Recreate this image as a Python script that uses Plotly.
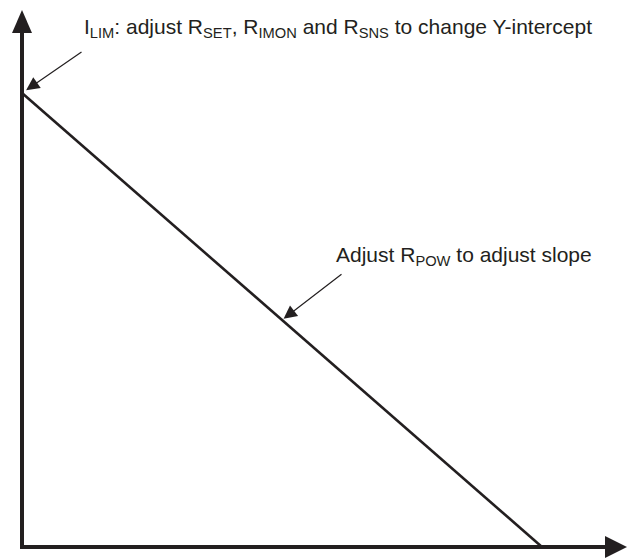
import plotly.graph_objects as go

# Data: a straight current-limit vs power line (normalised)
line_x = [0.0, 1.0]          # X-intercept at 1
line_y = [1.0, 0.0]          # Y-intercept (I_LIM) at 1
ilim_point = (0.0, 1.0)      # where the I_LIM callout points
slope_point = (0.5, 0.5)     # where the slope callout points
label_ilim = "I<sub>LIM</sub>: adjust R<sub>SET</sub>, R<sub>IMON</sub> and R<sub>SNS</sub> to change Y-intercept"
label_slope = "Adjust R<sub>POW</sub> to adjust slope"

W, H = 627, 558
ML, MR, MT, MB = 22, 0, 0, 11
PW, PH = W - ML - MR, H - MT - MB
PX_PER_X = 520.0
PX_PER_Y = 454.0

INK = "#231f20"
FONT = "Liberation Sans, Arial, sans-serif"

fig = go.Figure()
fig.add_trace(go.Scatter(x=line_x, y=line_y, mode="lines",
                         line=dict(color=INK, width=2.6), hoverinfo="skip",
                         showlegend=False))

def px2paper_x(px):
    return (px - ML) / PW

def px2paper_y(py):
    return (H - MB - py) / PH

shapes = [
    # x axis line
    dict(type="line", xref="paper", yref="paper", x0=-2 / PW, x1=px2paper_x(606),
         y0=0, y1=0, line=dict(color=INK, width=4)),
    # y axis line
    dict(type="line", xref="paper", yref="paper", x0=0, x1=0,
         y0=-2 / PH, y1=px2paper_y(33), line=dict(color=INK, width=4)),
    # y arrowhead
    dict(type="path", xref="paper", yref="paper", xsizemode="pixel", ysizemode="pixel",
         xanchor=0, yanchor=px2paper_y(33), path="M -10,0 L 10,0 L 0,23 Z",
         fillcolor=INK, line=dict(width=0)),
    # x arrowhead
    dict(type="path", xref="paper", yref="paper", xsizemode="pixel", ysizemode="pixel",
         xanchor=px2paper_x(605), yanchor=0, path="M 0,-11 L 0,11 L 22,0 Z",
         fillcolor=INK, line=dict(width=0)),
]

annotations = [
    dict(x=ilim_point[0], y=ilim_point[1], xref="x", yref="y", text="",
         showarrow=True, ax=61, ay=-42, arrowhead=2, arrowsize=2.2, arrowwidth=1.2,
         arrowcolor=INK, standoff=5),
    dict(x=slope_point[0], y=slope_point[1], xref="x", yref="y", text="",
         showarrow=True, ax=61, ay=-47, arrowhead=2, arrowsize=2.2, arrowwidth=1.2,
         arrowcolor=INK, standoff=2),
    dict(x=px2paper_x(82), y=px2paper_y(28), xref="paper", yref="paper",
         text=label_ilim, showarrow=False, xanchor="left", yanchor="middle",
         font=dict(family=FONT, size=21, color=INK)),
    dict(x=px2paper_x(334), y=px2paper_y(256), xref="paper", yref="paper",
         text=label_slope, showarrow=False, xanchor="left", yanchor="middle",
         font=dict(family=FONT, size=21, color=INK)),
]

fig.update_layout(
    width=W, height=H,
    margin=dict(l=ML, r=MR, t=MT, b=MB, pad=0),
    paper_bgcolor="white", plot_bgcolor="white",
    xaxis=dict(visible=False, range=[0, PW / PX_PER_X], fixedrange=True),
    yaxis=dict(visible=False, range=[0, PH / PX_PER_Y], fixedrange=True),
    shapes=shapes, annotations=annotations, showlegend=False,
    hovermode=False,
)

fig.write_html("out.html",
               config={"displayModeBar": False, "staticPlot": True},
               post_script="document.body.style.margin='0px';document.body.style.overflow='hidden';")
